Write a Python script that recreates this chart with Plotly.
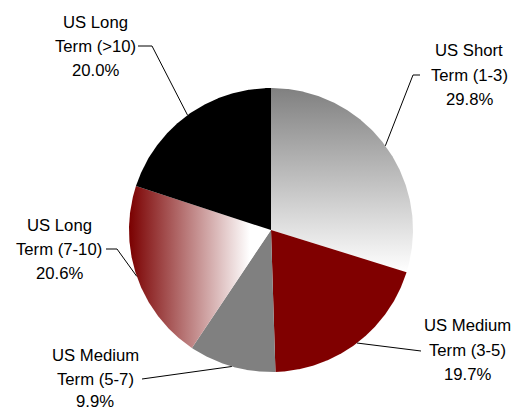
import numpy as np
import plotly.graph_objects as go

# ---- data ----
categories = ["US Short Term (1-3)", "US Medium Term (3-5)", "US Medium Term (5-7)",
              "US Long Term (7-10)", "US Long Term (>10)"]
label_line1 = ["US Short", "US Medium", "US Medium", "US Long", "US Long"]
label_line2 = ["Term (1-3)", "Term (3-5)", "Term (5-7)", "Term (7-10)", "Term (>10)"]
values = [29.8, 19.7, 9.9, 20.6, 20.0]

# ---- styles / layout ----
W, H = 512, 412
CX, CY, R = 271, 230, 142          # pie centre / radius in screen pixels
fills = [
    dict(kind="vertical", scale=[[0, "#ffffff"], [1, "#808080"]]),
    dict(kind="solid", color="#800000"),
    dict(kind="solid", color="#808080"),
    dict(kind="horizontal", scale=[[0, "#7a0000"], [1, "#ffffff"]]),
    dict(kind="solid", color="#000000"),
]
# label text centre x, y of the three lines, leader path points (screen pixels)
label_pos = [
    dict(x=469, ys=[50, 75, 99], path=[(420, 75), (413, 75)]),
    dict(x=467, ys=[325, 350, 374], path=[(421, 351)]),
    dict(x=95, ys=[355, 379, 401], path=[(142, 379), (150, 378)]),
    dict(x=59, ys=[225, 249, 273], path=[(106, 249), (117, 249)]),
    dict(x=95, ys=[22, 46, 70], path=[(138, 46), (152, 46)]),
]
FONT = "Liberation Sans, Arial, sans-serif"
FS = 16.7


def px2d(px, py):
    return (px - CX) / R, (CY - py) / R


fig = go.Figure()
total = sum(values)
start = 90.0
mids = []
for v, f, name in zip(values, fills, categories):
    sweep = 360.0 * v / total
    end = start - sweep
    th = np.radians(np.linspace(start, end, 200))
    xs = np.concatenate([[0], np.cos(th), [0]])
    ys = np.concatenate([[0], np.sin(th), [0]])
    tr = dict(x=xs, y=ys, mode="lines", fill="toself", line=dict(width=0),
              hoverinfo="skip", name=name, showlegend=False)
    if f["kind"] == "solid":
        tr["fillcolor"] = f["color"]
    elif f["kind"] == "vertical":
        tr["fillgradient"] = dict(type="vertical", colorscale=f["scale"],
                                  start=float(ys.min()), stop=float(ys.max()))
    else:
        tr["fillgradient"] = dict(type="horizontal", colorscale=f["scale"],
                                  start=float(xs.min()), stop=float(xs.max()) - 0.15)
    fig.add_trace(go.Scatter(**tr))
    mids.append(np.radians((start + end) / 2))
    start = end

annotations = []
for i, m in enumerate(mids):
    lp = label_pos[i]
    ex, ey = np.cos(m), np.sin(m)
    pts = [px2d(*p) for p in lp["path"]]
    lx = [ex] + [p[0] for p in reversed(pts)]
    ly = [ey] + [p[1] for p in reversed(pts)]
    fig.add_trace(go.Scatter(x=lx, y=ly, mode="lines", line=dict(color="black", width=1),
                             hoverinfo="skip", showlegend=False))
    texts = [label_line1[i], label_line2[i], f"{values[i]:.1f}%"]
    for t, yy in zip(texts, lp["ys"]):
        ax, ay = px2d(lp["x"], yy)
        annotations.append(dict(x=ax, y=ay, text=t, showarrow=False,
                                xanchor="center", yanchor="middle",
                                font=dict(family=FONT, size=FS, color="black")))

x0, y1 = px2d(0, 0)
x1, y0 = px2d(W, H)
fig.update_layout(
    width=W, height=H, margin=dict(l=0, r=0, t=0, b=0),
    paper_bgcolor="white", plot_bgcolor="white",
    xaxis=dict(range=[x0, x1], visible=False, fixedrange=True),
    yaxis=dict(range=[y0, y1], visible=False, fixedrange=True),
    annotations=annotations,
)
fig.write_html("out.html", config={"displayModeBar": False},
               post_script="document.body.style.margin='0';document.body.style.overflow='hidden';")
